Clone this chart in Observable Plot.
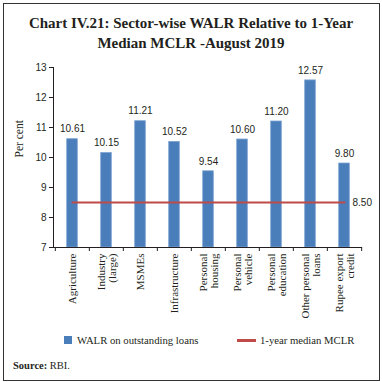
<!DOCTYPE html>
<html>
<head>
<meta charset="utf-8">
<script src="https://cdn.jsdelivr.net/npm/d3@7"></script>
<script src="https://cdn.jsdelivr.net/npm/@observablehq/plot@0.6"></script>
<style>
  html, body { margin: 0; padding: 0; background: #fff; }
  #fig { position: relative; width: 382px; height: 382px; overflow: hidden; font-family: "Liberation Serif", serif; color: #231f20; }
  #border { position: absolute; left: 3px; top: 3px; width: 375px; height: 376px; border: 1px solid #333; }
  #title { position: absolute; left: 0; top: 13px; width: 382px; text-align: center; font-weight: bold; font-size: 15px; line-height: 20px; }
  #chart { position: absolute; left: 0; top: 57px; }
  #legend { position: absolute; top: 332px; left: 0; width: 382px; font-size: 10.7px; }
  .li { position: absolute; top: 0; white-space: nowrap; line-height: 16px; }
  .sw { display: inline-block; vertical-align: middle; }
  #source { position: absolute; left: 13px; top: 360px; font-size: 10.5px; }
</style>
</head>
<body>
<div id="fig">
  <div id="border"></div>
  <div id="title">Chart IV.21: Sector-wise WALR Relative to 1-Year<br>Median MCLR -August 2019</div>
  <div id="chart"></div>
  <div id="legend">
    <div class="li" style="left:64px"><span class="sw" style="width:8px;height:8px;background:#4a7ebb;margin-right:5px;margin-top:-3px"></span>WALR on outstanding loans</div>
    <div class="li" style="left:237px"><span class="sw" style="width:19px;height:3px;background:#be4b48;margin-right:4px;margin-top:-3px"></span>1-year median MCLR</div>
  </div>
  <div id="source"><b>Source:</b> RBI.</div>
</div>
<script>
const categories = ["Agriculture", "Industry\n(large)", "MSMEs", "Infrastructure", "Personal\nhousing", "Personal\nvehicle", "Personal\neducation", "Other personal\nloans", "Rupee export\ncredit"];
const walr = [10.61, 10.15, 11.21, 10.52, 9.54, 10.60, 11.20, 12.57, 9.80];
const mclr = 8.50;
const yTicks = [7, 8, 9, 10, 11, 12, 13];

const rows = categories.map((c, i) => ({cat: c, value: walr[i], mclr}));
const yMin = yTicks[0];
const lastCat = categories[categories.length - 1];

const W = 382, mL = 53, mR = 20;
const bw = (W - mL - mR) / categories.length;

const chart = Plot.plot({
  width: W,
  height: 272,
  marginLeft: mL,
  marginRight: mR,
  marginTop: 10,
  marginBottom: 82,
  style: {fontFamily: "Liberation Sans, sans-serif", fontSize: "10px", color: "#231f20", background: "transparent"},
  x: {domain: categories, padding: 0, axis: null},
  y: {domain: [yTicks[0], yTicks[yTicks.length - 1]], ticks: yTicks, tickFormat: d => String(d), tickSize: 4, tickPadding: 3, line: true, label: null},
  marks: [
    Plot.barY(rows, {x: "cat", y1: () => yMin, y2: "value", fill: "#4a7ebb", stroke: "#7ea3d2", strokeWidth: 0.8, insetLeft: 11.7, insetRight: 11.7}),
    Plot.ruleY([yMin], {stroke: "#231f20"}),
    Plot.ruleX(categories, {x: d => d, y1: () => yMin, y2: () => yMin, insetTop: 4, dx: -bw / 2, stroke: "#231f20"}),
    Plot.ruleX([lastCat], {x: d => d, y1: () => yMin, y2: () => yMin, insetTop: 4, dx: bw / 2, stroke: "#231f20"}),
    Plot.line(rows, {x: "cat", y: "mclr", stroke: "#be4b48", strokeWidth: 2.2}),
    Plot.text(rows, {x: "cat", y: "value", text: d => d.value.toFixed(2), dy: -10, fontSize: 10, fill: "#231f20"}),
    Plot.text([rows[rows.length - 1]], {x: "cat", y: "mclr", text: d => d.mclr.toFixed(2), textAnchor: "start", dx: 8, fontSize: 10, fill: "#231f20"}),
    Plot.text(rows, {x: "cat", y: () => yMin, text: "cat", rotate: -90, textAnchor: "end", lineAnchor: "middle", lineHeight: 1.0, dy: 6, fontFamily: "Liberation Serif, serif", fontSize: 11, fill: "#231f20"}),
    Plot.text(["Per cent"], {frameAnchor: "left", text: d => d, rotate: -90, dx: -34, fontFamily: "Liberation Serif, serif", fontSize: 11.5, fill: "#231f20"})
  ]
});
document.getElementById("chart").appendChild(chart);
</script>
</body>
</html>
